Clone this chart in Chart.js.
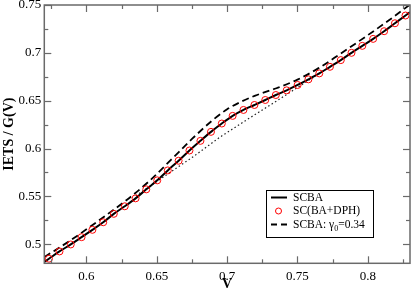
<!DOCTYPE html>
<html><head><meta charset="utf-8">
<script src="https://cdn.jsdelivr.net/npm/chart.js@4.4.0/dist/chart.umd.min.js"></script>
<style>html,body{margin:0;padding:0;background:#fff}#wrap{width:415px;height:293px;position:relative}</style>
</head><body><div id="wrap"><canvas id="c" width="415" height="293"></canvas></div>
<script>
// ---- data ----
const xTicks = [0.6, 0.65, 0.7, 0.75, 0.8];
const yTicks = [0.5, 0.55, 0.6, 0.65, 0.7, 0.75];
const xMinor = [0.575, 0.625, 0.675, 0.725, 0.775, 0.825];
const yMinor = [0.525, 0.575, 0.625, 0.675, 0.725];
const seriesLabels = ['SCBA', 'SC(BA+DPH)', 'SCBA: γ0=0.34'];

// SC(BA+DPH) circles
const dphV = [0.5733,0.5808,0.5888,0.5965,0.6042,0.6119,0.6194,0.6272,0.6349,0.6425,0.6503,0.6578,0.6655,0.6732,0.6810,0.6885,0.6962,0.7039,0.7116,0.7194,0.7271,0.7346,0.7423,0.7501,0.7578,0.7655,0.7731,0.7808,0.7884,0.7961,0.8038,0.8116,0.8193,0.8268];
const dphY = [0.4848,0.4924,0.4997,0.5073,0.5150,0.5229,0.5317,0.5396,0.5479,0.5573,0.5667,0.5771,0.5872,0.5979,0.6080,0.6174,0.6261,0.6341,0.6403,0.6455,0.6507,0.6559,0.6608,0.6664,0.6723,0.6785,0.6854,0.6924,0.7000,0.7073,0.7146,0.7226,0.7309,0.7390];

// SCBA solid line
const scbaV = [0.57,0.5733,0.5808,0.5888,0.5965,0.6042,0.6119,0.6194,0.6272,0.6349,0.6425,0.6503,0.6578,0.6655,0.6732,0.6810,0.6885,0.6962,0.7039,0.7116,0.7194,0.7271,0.7346,0.7423,0.7501,0.7578,0.7655,0.7731,0.7808,0.7884,0.7961,0.8038,0.8116,0.8193,0.8268,0.83];
const scbaY = [0.4815,0.4848,0.4924,0.4997,0.5073,0.5150,0.5229,0.5317,0.5396,0.5479,0.5573,0.5667,0.5771,0.5872,0.5979,0.6080,0.6174,0.6261,0.6341,0.6403,0.6455,0.6507,0.6559,0.6608,0.6664,0.6723,0.6785,0.6854,0.6924,0.7000,0.7073,0.7146,0.7226,0.7309,0.7390,0.7425];

// SCBA gamma0 = 0.34 dashed line
const gammaV = [0.57,0.59,0.61,0.63,0.645,0.66,0.675,0.69,0.70,0.71,0.72,0.735,0.75,0.765,0.78,0.80,0.815,0.83];
const gammaY = [0.4865,0.5053,0.5261,0.5478,0.5665,0.5880,0.6100,0.6300,0.6410,0.6490,0.6553,0.6630,0.6720,0.6840,0.6985,0.7185,0.7340,0.7505];

// dotted reference line
const baseV = [0.635,0.655,0.675,0.695,0.715,0.735,0.755,0.77];
const baseY = [0.5505,0.5705,0.5905,0.6120,0.6310,0.6495,0.6685,0.6825];

const pts = (xs, ys) => xs.map((v, i) => ({x: v, y: ys[i]}));
const SERIF = "'Liberation Serif', 'DejaVu Serif', serif";

const frameTicks = {
  id: 'frameTicks',
  afterDatasetsDraw(chart) {
    const {ctx, chartArea: a, scales: {x, y}} = chart;
    ctx.save();
    ctx.strokeStyle = '#6a6a6a';
    ctx.lineWidth = 1.2;
    const seg = (x1, y1, x2, y2) => { ctx.beginPath(); ctx.moveTo(x1, y1); ctx.lineTo(x2, y2); ctx.stroke(); };
    xTicks.forEach(v => { const p = Math.round(x.getPixelForValue(v)) + 0.5; seg(p, a.bottom, p, a.bottom - 7); seg(p, a.top, p, a.top + 7); });
    xMinor.forEach(v => { const p = Math.round(x.getPixelForValue(v)) + 0.5; seg(p, a.bottom, p, a.bottom - 4); seg(p, a.top, p, a.top + 4); });
    yTicks.forEach(v => { const p = Math.round(y.getPixelForValue(v)) + 0.5; seg(a.left, p, a.left + 7, p); seg(a.right, p, a.right - 7, p); });
    yMinor.forEach(v => { const p = Math.round(y.getPixelForValue(v)) + 0.5; seg(a.left, p, a.left + 4, p); seg(a.right, p, a.right - 4, p); });
    ctx.lineWidth = 1.5;
    ctx.strokeRect(a.left, a.top, a.right - a.left, a.bottom - a.top);
    ctx.restore();
  },
  afterDraw(chart) {
    const ctx = chart.ctx;
    ctx.save();
    const bx = 266.5, by = 190.5, bw = 107, bh = 47;
    ctx.fillStyle = '#fff';
    ctx.fillRect(bx, by, bw, bh);
    ctx.strokeStyle = '#000';
    ctx.lineWidth = 1;
    ctx.strokeRect(bx, by, bw, bh);
    const rows = [197.5, 211, 224.5];
    const lx1 = 271, lx2 = 287, tx = 293;
    ctx.font = "11.5px " + SERIF;
    ctx.fillStyle = '#000';
    ctx.textBaseline = 'middle';
    ctx.textAlign = 'left';
    // row 1
    ctx.lineWidth = 2; ctx.setLineDash([]);
    ctx.beginPath(); ctx.moveTo(lx1, rows[0]); ctx.lineTo(lx2, rows[0]); ctx.stroke();
    ctx.fillText(seriesLabels[0], tx, rows[0]);
    // row 2
    ctx.strokeStyle = '#ff0000'; ctx.lineWidth = 1;
    ctx.beginPath(); ctx.arc(278.5, rows[1], 3, 0, Math.PI * 2); ctx.stroke();
    ctx.fillText(seriesLabels[1], tx, rows[1]);
    // row 3
    ctx.strokeStyle = '#000'; ctx.lineWidth = 1.8; ctx.setLineDash([6, 4]);
    ctx.beginPath(); ctx.moveTo(lx1, rows[2]); ctx.lineTo(lx2, rows[2]); ctx.stroke();
    ctx.setLineDash([]);
    const lab = seriesLabels[2];
    const gi = lab.indexOf('γ') + 1;
    const main = lab.slice(0, gi), sub = lab.slice(gi, gi + 1), rest = lab.slice(gi + 1);
    ctx.fillText(main, tx, rows[2]);
    let w = ctx.measureText(main).width;
    ctx.font = "8px " + SERIF;
    ctx.fillText(sub, tx + w, rows[2] + 4);
    const w2 = ctx.measureText(sub).width;
    ctx.font = "11.5px " + SERIF;
    ctx.fillText(rest, tx + w + w2, rows[2]);
    ctx.restore();
  }
};

new Chart(document.getElementById('c'), {
  type: 'scatter',
  data: {
    datasets: [
      {label: 'baseline', data: pts(baseV, baseY), showLine: true, borderColor: '#222', borderWidth: 1.2, borderDash: [1.5, 2.5], pointRadius: 0, fill: false, order: 4},
      {label: seriesLabels[2], data: pts(gammaV, gammaY), showLine: true, borderColor: '#000', borderWidth: 1.8, borderDash: [7, 4], pointRadius: 0, cubicInterpolationMode: 'monotone', fill: false, order: 3},
      {label: seriesLabels[0], data: pts(scbaV, scbaY), showLine: true, borderColor: '#000', borderWidth: 2, pointRadius: 0, cubicInterpolationMode: 'monotone', fill: false, order: 2},
      {label: seriesLabels[1], data: pts(dphV, dphY), showLine: false, borderColor: '#ff0000', backgroundColor: 'rgba(0,0,0,0)', borderWidth: 1, pointRadius: 3.5, pointStyle: 'circle', order: 1}
    ]
  },
  options: {
    responsive: false,
    animation: false,
    devicePixelRatio: 1,
    layout: {padding: {left: 0, right: 1.5, top: 4.7, bottom: 0}},
    plugins: {legend: {display: false}, tooltip: {enabled: false}},
    scales: {
      x: {
        type: 'linear', min: 0.57, max: 0.83,
        afterBuildTicks: s => { s.ticks = xTicks.map(v => ({value: v})); },
        afterFit: s => { s.height = 29.7; s.paddingLeft = 0; s.paddingRight = 0; },
        ticks: {callback: v => String(+v.toFixed(2)), font: {family: SERIF, size: 13}, color: '#000', padding: 5, maxRotation: 0, autoSkip: false},
        grid: {display: false, drawTicks: false},
        border: {display: false},
        title: {display: true, text: 'V', font: {family: SERIF, size: 14, weight: 'bold'}, color: '#000', padding: {top: 0, bottom: 0}}
      },
      y: {
        type: 'linear', min: 0.48, max: 0.75,
        afterBuildTicks: s => { s.ticks = yTicks.map(v => ({value: v})); },
        afterFit: s => { s.width = 44.3; s.paddingTop = 0; s.paddingBottom = 0; },
        ticks: {callback: v => String(+v.toFixed(2)), font: {family: SERIF, size: 13}, color: '#000', padding: 3, autoSkip: false},
        grid: {display: false, drawTicks: false},
        border: {display: false},
        title: {display: true, text: 'IETS / G(V)', font: {family: SERIF, size: 14, weight: 'bold'}, color: '#000', padding: {top: 1, bottom: 0}}
      }
    }
  },
  plugins: [frameTicks]
});
</script>
</body></html>
